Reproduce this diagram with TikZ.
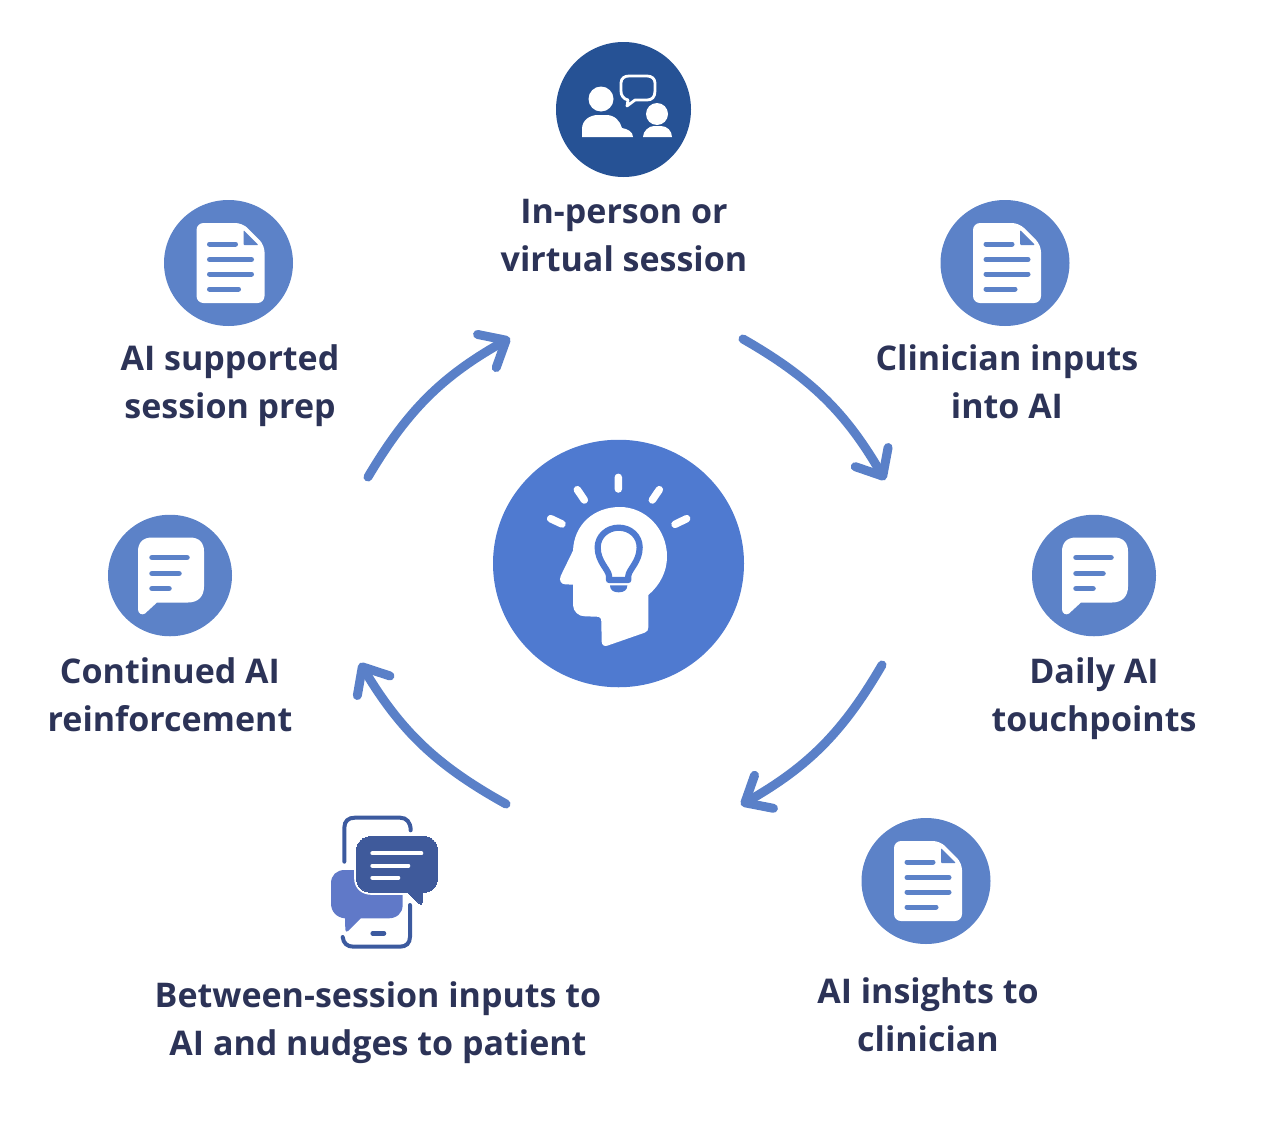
\documentclass[tikz,border=0pt]{standalone}
\usepackage{fontspec}
\setmainfont{Open Sans}
\usetikzlibrary{arrows.meta,shapes.geometric}
\definecolor{inkcol}{HTML}{2C3357}
\definecolor{topblue}{HTML}{265295}
\definecolor{midblue}{HTML}{4F7AD0}
\definecolor{softblue}{HTML}{5C82C8}
\definecolor{arrowblue}{HTML}{5A80C8}
\definecolor{phoneline}{HTML}{3C5A9F}
\definecolor{darkbub}{HTML}{3F5A9B}
\definecolor{lightbub}{HTML}{6079C8}
\tikzset{
  x=1pt,y=-1pt,
  disc/.style 2 args={ellipse,draw=none,inner sep=0pt,minimum width=#1,minimum height=#2},
  lab/.style={text=inkcol,align=center,inner sep=0pt,font=\fontsize{34}{48}\selectfont\bfseries},
  cycarrow/.style={draw=arrowblue,line width=9pt,line cap=round,line join=round,
    -{Straight Barb[length=22pt,width=38pt,round]}},
  docicon/.pic={
    \fill[white,rounded corners=7pt] (-32,-40) -- (14,-40) -- (36,-18) -- (36,40) -- (-32,40) -- cycle;
    \fill[softblue,rounded corners=1pt] (15,-33) -- (30,-18) -- (15,-18) -- cycle;
    \draw[softblue,line width=5pt,line cap=round]
      (-19,-19) -- (7,-19) (-19,-3.5) -- (23,-3.5) (-19,11) -- (23,11) (-19,26) -- (10,26);
  },
  bubicon/.pic={
    \fill[white] (-32,-24) .. controls (-32,-33) and (-27,-38) .. (-18,-38) -- (20,-38)
      .. controls (29,-38) and (34,-33) .. (34,-24) -- (34,11)
      .. controls (34,21) and (28,27) .. (18,27) -- (-13,27) -- (-25,38)
      .. controls (-28,40) and (-32,38) .. (-32,34) -- cycle;
    \draw[softblue,line width=5.5pt,line cap=round]
      (-18,-18) -- (17,-18) (-18,-2) -- (9,-2) (-18,13) -- (-1,13);
  },
}
\begin{document}
\begin{tikzpicture}
\useasboundingbox (0,0) rectangle (1262,1122);
% discs
\node[disc={135pt}{135pt},fill=topblue] (top) at (623.5,109.5) {};
\node[disc={129pt}{126pt},fill=softblue] (docl) at (228.5,263) {};
\node[disc={129pt}{126pt},fill=softblue] (docr) at (1005,263) {};
\node[disc={124pt}{121.5pt},fill=softblue] (bubl) at (170,575.5) {};
\node[disc={124pt}{121.5pt},fill=softblue] (bubr) at (1094,575.5) {};
\node[disc={129pt}{126pt},fill=softblue] (docb) at (926,881) {};
\node[disc={251pt}{247.5pt},fill=midblue] (hub) at (618.5,563.5) {};
% icons
\pic at (docl.center) {docicon};
\pic at (docr.center) {docicon};
\pic at (docb.center) {docicon};
\pic at (bubl.center) {bubicon};
\pic at (bubr.center) {bubicon};
% people icon
\fill[white] (601,99) circle[radius=12.5];
\fill[white] (582,137) -- (582,129) .. controls (582,120) and (590,115) .. (598,115) -- (606,115)
  .. controls (615,115) and (620,121) .. (622,128) .. controls (628,129) and (633,132) .. (633,137) -- cycle;
\fill[white] (657,114) circle[radius=11];
\fill[white] (643,137) .. controls (643,131) and (649,126) .. (654,126) -- (661,126)
  .. controls (667,126) and (672,131) .. (672,137) -- cycle;
\draw[white,line width=2.8pt,line join=round] (628,100) .. controls (623,99) and (621,95) .. (621,91)
  -- (621,83) .. controls (621,78) and (625,76) .. (629,76) -- (647,76)
  .. controls (652,76) and (655,79) .. (655,83) -- (655,91) .. controls (655,97) and (652,100) .. (647,100)
  -- (635,100) -- (627,106) -- cycle;
% head icon
\begin{scope}[shift={(480,430)},scale=0.33333]
\fill[white] (365,635) .. controls (366,645) and (372,650) .. (382,647) -- (494,608)
  .. controls (502,605) and (505,600) .. (505,592) -- (505,495)
  .. controls (540,465) and (561,425) .. (561,380)
  .. controls (561,295) and (495,231) .. (420,231)
  .. controls (340,231) and (282,285) .. (279,362)
  -- (242,438) .. controls (236,452) and (244,463) .. (256,463) -- (279,464)
  -- (279,525) .. controls (280,545) and (295,559) .. (315,559) -- (350,560)
  .. controls (360,560) and (364,565) .. (364,575) -- cycle;
\draw[midblue,line width=6.2pt,line join=round] (387,450) -- (387,437)
  .. controls (385,418) and (353,395) .. (353,352)
  .. controls (353,318) and (382,293) .. (416,293)
  .. controls (451,293) and (479,318) .. (479,352)
  .. controls (479,395) and (447,418) .. (445,437) -- (445,450) -- cycle;
\fill[midblue] (390,466) -- (442,466) .. controls (442,480) and (432,487) .. (416,487)
  .. controls (400,487) and (390,480) .. (390,466) -- cycle;
\draw[white,line width=7.5pt,line cap=round]
  (415,142) -- (415,177) (292,179) -- (313,210) (538,179) -- (517,210)
  (212,266) -- (246,282) (620,266) -- (585,283);
\end{scope}
% phone icon
\begin{scope}[shift={(320,805)},scale=0.33333]
\draw[phoneline,line width=4pt,line cap=round]
  (73,170) -- (73,68) .. controls (73,48) and (85,38) .. (105,38) -- (240,38)
  .. controls (260,38) and (272,52) .. (272,76);
\draw[phoneline,line width=4pt,line cap=round]
  (270,300) -- (270,395) .. controls (270,415) and (258,425) .. (240,425) -- (100,425)
  .. controls (82,425) and (70,415) .. (68,396);
\draw[phoneline,line width=4.5pt,line cap=round] (158,385) -- (192,385);
\fill[lightbub] (75,195) -- (210,195) .. controls (235,195) and (248,215) .. (248,240) -- (248,300)
  .. controls (248,325) and (230,340) .. (205,340) -- (122,340) -- (84,378)
  .. controls (80,382) and (76,380) .. (76,374) -- (75,340)
  .. controls (50,338) and (33,320) .. (33,295) -- (33,235)
  .. controls (33,210) and (50,195) .. (75,195) -- cycle;
\draw[darkbub,fill=darkbub,line width=0pt,preaction={draw=white,line width=5pt}]
  (155,95) -- (310,95) .. controls (335,95) and (352,112) .. (352,137) -- (352,220)
  .. controls (352,245) and (335,262) .. (310,262) -- (306,262) -- (306,292)
  .. controls (306,298) and (302,300) .. (298,296) -- (262,262) -- (155,262)
  .. controls (128,262) and (110,245) .. (110,220) -- (110,137)
  .. controls (110,112) and (128,95) .. (155,95) -- cycle;
\draw[white,line width=4pt,line cap=round]
  (157,145) -- (304,145) (157,182) -- (265,182) (157,218) -- (235,218);
\end{scope}
% arrows
\coordinate (a1s) at (368,477); \coordinate (a1e) at (510,338);
\coordinate (a2s) at (743,339); \coordinate (a2e) at (885,480);
\coordinate (a3s) at (882,665); \coordinate (a3e) at (741,805);
\coordinate (a4s) at (506,804); \coordinate (a4e) at (360,663);
\draw[cycarrow] (a1s) to[bend left=15] (a1e);
\draw[cycarrow] (a2s) to[bend left=15] (a2e);
\draw[cycarrow] (a3s) to[bend left=15] (a3e);
\draw[cycarrow] (a4s) to[bend left=15] (a4e);
% labels
\node[lab] (t1) at (624,236) {In-person or\\virtual session};
\node[lab] (t2) at (1007,382) {Clinician inputs\\into AI};
\node[lab] (t3) at (1094,699) {Daily AI\\touchpoints};
\node[lab] (t4) at (928,1015) {AI insights to\\clinician};
\node[lab] (t5) at (378,1023) {Between-session inputs to\\AI and nudges to patient};
\node[lab] (t6) at (170,695) {Continued AI\\reinforcement};
\node[lab] (t7) at (230,386) {AI supported\\session prep};
\end{tikzpicture}
\end{document}
